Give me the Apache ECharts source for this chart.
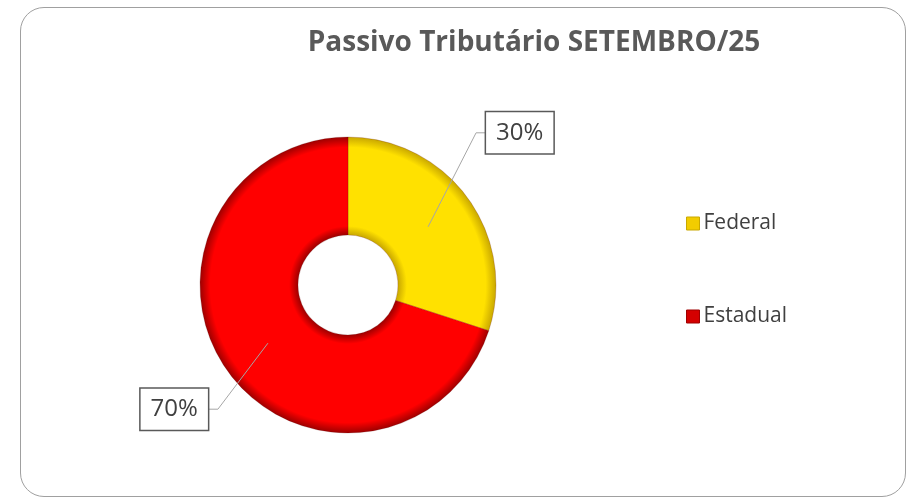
<!DOCTYPE html>
<html>
<head>
<meta charset="utf-8">
<script src="https://cdn.jsdelivr.net/npm/echarts@6/dist/echarts.min.js"></script>
<style>
  html, body { margin: 0; padding: 0; background: #fff; }
  .frame {
    position: absolute; left: 20px; top: 7px; width: 884px; height: 488px;
    border: 1px solid #a0a0a0; border-radius: 24px;
  }
  #chart { position: absolute; left: 0; top: 0; width: 906px; height: 497px; }
</style>
</head>
<body>
<div class="frame"></div>
<div id="chart"></div>
<script>
// dados
const categories = ["Federal", "Estadual"];
const values = [30, 70];

const mainColors = ["#FFE100", "#FF0000"];
const edgeColors = ["#C9A800", "#9E0000"];
const legendColors = ["#F2CC00", "#D40000"];
// deslocamento do rótulo em relação à âncora (meio do anel)
const labelOffsets = [[48, -94], [-50, 66]];

const cx = 348, cy = 285, rOut = 148, rIn = 50;

const chart = echarts.init(document.getElementById("chart"));

function bevel(i) {
  const a = rIn / rOut;
  return {
    type: "radial", x: cx, y: cy, r: rOut, global: true,
    colorStops: [
      { offset: a, color: edgeColors[i] },
      { offset: a + 0.06, color: mainColors[i] },
      { offset: 0.93, color: mainColors[i] },
      { offset: 1, color: edgeColors[i] },
    ],
  };
}

const option = {
  animation: false,
  title: {
    text: "Passivo Tributário SETEMBRO/25",
    left: 529,
    top: 24,
    textAlign: "center",
    textStyle: {
      fontFamily: "Open Sans",
      fontWeight: "bold",
      fontSize: 28,
      color: "#595959",
    },
  },
  legend: {
    orient: "vertical",
    left: 681,
    top: 208,
    itemWidth: 13,
    itemHeight: 13,
    itemGap: 72,
    icon: "rect",
    textStyle: { fontFamily: "Open Sans", fontSize: 21, color: "#404040", padding: [0, 0, 0, -1] },
    data: categories.map((name, i) => ({
      name: name,
      itemStyle: { color: legendColors[i], borderColor: edgeColors[i], borderWidth: 1 },
    })),
  },
  series: [
    {
      type: "pie",
      center: [cx, cy],
      radius: [rIn, rOut],
      startAngle: 90,
      clockwise: true,
      silent: true,
      label: { show: false },
      labelLine: { show: false },
      itemStyle: { borderColor: "rgba(90,0,0,0.35)", borderWidth: 0.6 },
      data: categories.map((name, i) => ({
        name: name,
        value: values[i],
        itemStyle: { color: bevel(i) },
      })),
    },
    {
      // série invisível só para ancorar os rótulos no meio do anel
      type: "pie",
      center: [cx, cy],
      radius: [0, (rIn + rOut) / 2],
      startAngle: 90,
      clockwise: true,
      silent: true,
      z: 5,
      legendHoverLink: false,
      itemStyle: { color: "rgba(0,0,0,0)" },
      label: {
        show: true,
        position: "outside",
        formatter: "{d}%",
        fontFamily: "Open Sans",
        fontSize: 24,
        color: "#404040",
        backgroundColor: "#fff",
        borderColor: "#595959",
        borderWidth: 1.5,
        padding: [9, 10, 8, 10],
      },
      labelLine: {
        show: true,
        length: 10,
        length2: 10,
        lineStyle: { color: "#a6a6a6", width: 1 },
      },
      labelLayout: function (p) {
        const anchor = p.labelLinePoints[0];
        const off = labelOffsets[p.dataIndex];
        const right = off[0] > 0;
        const bend = [anchor[0] + off[0], anchor[1] + off[1]];
        const end = [bend[0] + (right ? 10 : -10), bend[1]];
        return {
          x: end[0],
          y: end[1],
          align: right ? "left" : "right",
          verticalAlign: "middle",
          labelLinePoints: [anchor, bend, end],
        };
      },
      data: categories.map((name, i) => ({ name: name, value: values[i] })),
    },
  ],
};

chart.setOption(option);
</script>
</body>
</html>
